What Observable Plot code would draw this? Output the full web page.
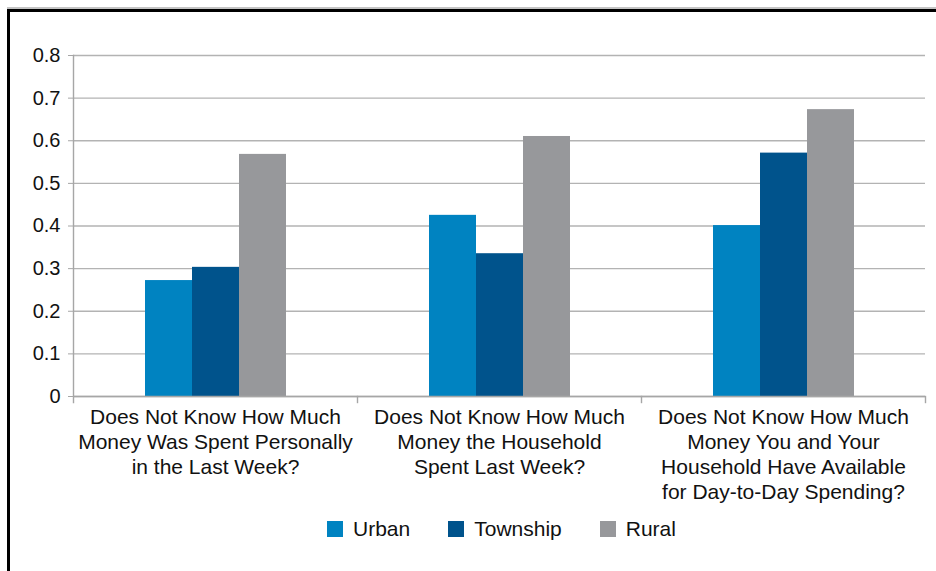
<!DOCTYPE html>
<html>
<head>
<meta charset="utf-8">
<script src="https://cdn.jsdelivr.net/npm/d3@7"></script>
<script src="https://cdn.jsdelivr.net/npm/@observablehq/plot@0.6"></script>
<style>
  html, body { margin: 0; padding: 0; background: #fff; }
  body { width: 936px; height: 571px; overflow: hidden; position: relative; font-family: "Liberation Sans", Arial, Helvetica, sans-serif; }
  #topline { position: absolute; left: 7px; top: 7px; width: 940px; height: 2px; background: #c4c4c4; }
  #frame { position: absolute; left: 7px; top: 9px; width: 940px; height: 600px; border-left: 3px solid #000; border-top: 3px solid #000; box-sizing: border-box; }
  #chart { position: absolute; left: 0; top: 0; }
  #legend { position: absolute; left: 327px; top: 517px; display: flex; align-items: center; font-size: 21px; color: #111; }
  #legend .item { display: flex; align-items: center; margin-right: 38px; }
  #legend .sw { width: 16px; height: 16px; margin-right: 10px; }
</style>
</head>
<body>
<div id="topline"></div>
<div id="frame"></div>
<div id="chart"></div>
<div id="legend"></div>
<script>
// ---- data ----
const categories = [
  "Does Not Know How Much\nMoney Was Spent Personally\nin the Last Week?",
  "Does Not Know How Much\nMoney the Household\nSpent Last Week?",
  "Does Not Know How Much\nMoney You and Your\nHousehold Have Available\nfor Day-to-Day Spending?"
];
const series = ["Urban", "Township", "Rural"];
const urban = [0.272, 0.425, 0.401];
const township = [0.303, 0.335, 0.571];
const rural = [0.568, 0.610, 0.673];
const colors = ["#0083c1", "#00538c", "#97989b"];
const yTicks = [0, 0.1, 0.2, 0.3, 0.4, 0.5, 0.6, 0.7, 0.8];

const values = {Urban: urban, Township: township, Rural: rural};
const rows = [];
categories.forEach((c, i) => series.forEach(s => rows.push({category: c, series: s, value: values[s][i]})));

const chart = Plot.plot({
  width: 936,
  height: 571,
  marginTop: 55,
  marginBottom: 175,
  marginLeft: 73,
  marginRight: 11,
  style: {fontFamily: '"Liberation Sans", Arial, Helvetica, sans-serif', background: "transparent"},
  fx: {domain: categories, paddingInner: 0, paddingOuter: 0, axis: null, label: null},
  x: {domain: series, paddingInner: 0, paddingOuter: 1.5, axis: null, label: null},
  y: {domain: [0, 0.8], axis: null, label: null},
  color: {domain: series, range: colors},
  marks: [
    Plot.gridY(yTicks, {stroke: "#b3b3b3", strokeOpacity: 1, strokeWidth: 1.4}),
    Plot.barY(rows, {fx: "category", x: "series", y: "value", fill: "series"}),
    Plot.ruleY([0], {stroke: "#a6a6a6", strokeWidth: 1.4}),
    Plot.frame({anchor: "left", facetAnchor: "left", stroke: "#a6a6a6", strokeWidth: 1.4, insetBottom: -6}),
    Plot.frame({anchor: "right", stroke: "#a6a6a6", strokeWidth: 1.4, insetTop: 341, insetBottom: -6}),
    Plot.axisY(yTicks, {tickSize: 5, tickPadding: 8, stroke: "#a6a6a6", fontSize: 20, fill: "#111", label: null, tickFormat: d => String(d)}),
    Plot.text(categories, {fx: d => d, text: d => d, frameAnchor: "bottom", lineAnchor: "top", dy: 10, fontSize: 21, lineHeight: 1.19, fill: "#111"})
  ]
});
document.getElementById("chart").appendChild(chart);

const legend = document.getElementById("legend");
series.forEach((s, i) => {
  const item = document.createElement("div");
  item.className = "item";
  const sw = document.createElement("div");
  sw.className = "sw";
  sw.style.background = colors[i];
  const label = document.createElement("span");
  label.textContent = s;
  item.appendChild(sw);
  item.appendChild(label);
  legend.appendChild(item);
});
</script>
</body>
</html>
